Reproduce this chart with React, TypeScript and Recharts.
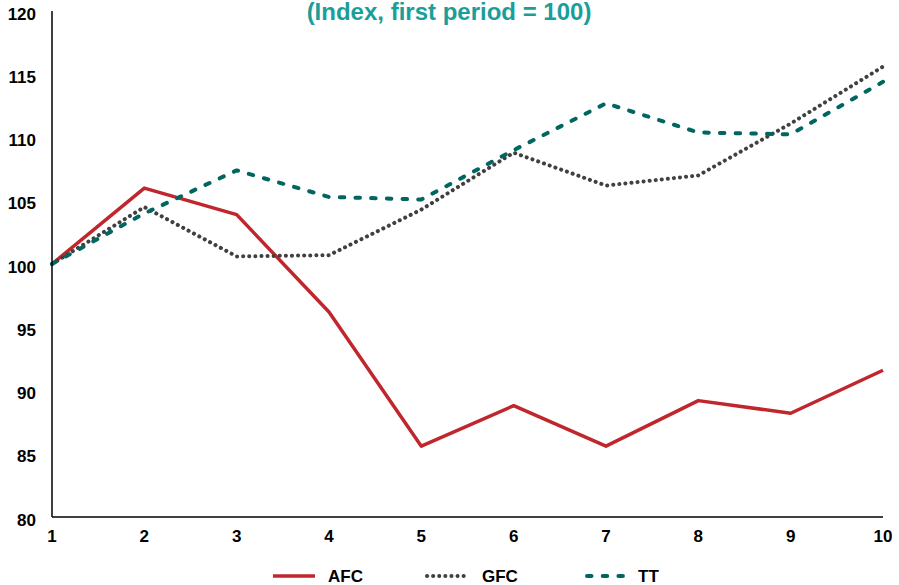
import React from "react";
import { LineChart, Line, XAxis, YAxis, Legend } from "recharts";

const periods = ["1", "2", "3", "4", "5", "6", "7", "8", "9", "10"];
const afc = [100, 106.0, 103.9, 96.2, 85.6, 88.8, 85.6, 89.2, 88.2, 91.6];
const gfc = [100, 104.5, 100.6, 100.7, 104.3, 108.8, 106.2, 107.0, 111.1, 115.6];
const tt = [100, 104.0, 107.4, 105.3, 105.1, 109.0, 112.7, 110.4, 110.25, 114.4];
const yTicks = [80, 85, 90, 95, 100, 105, 110, 115, 120];
const title = "(Index, first period = 100)";

const data = periods.map((p, i) => ({ period: p, AFC: afc[i], GFC: gfc[i], TT: tt[i] }));

const FONT = "'Liberation Sans', Arial, sans-serif";

const series = [
  { key: "AFC", color: "#c0272d", dash: undefined as string | undefined, cap: "butt" as const, width: 3.5 },
  { key: "GFC", color: "#404040", dash: "0.1 6", cap: "round" as const, width: 4 },
  { key: "TT", color: "#00665f", dash: "4.5 11.2", cap: "round" as const, width: 4 },
];

const YTick = (props: any) => {
  const { x, y, payload } = props;
  return (
    <text x={x - 16} y={y + 3} textAnchor="end" dominantBaseline="central" fontFamily={FONT} fontWeight="bold" fontSize={17} fill="#000">
      {payload.value}
    </text>
  );
};

const XTick = (props: any) => {
  const { x, y, payload } = props;
  return (
    <text x={x} y={y + 19} textAnchor="middle" dominantBaseline="central" fontFamily={FONT} fontWeight="bold" fontSize={17} fill="#000">
      {payload.value}
    </text>
  );
};

const legendPos = [
  { x1: 273, x2: 315, tx: 328 },
  { x1: 427, x2: 464, tx: 482 },
  { x1: 587, x2: 628, tx: 638 },
];

const LegendContent = () => (
  <svg width={899} height={20} style={{ display: "block" }}>
    {series.map((s, i) => (
      <g key={s.key}>
        <line
          x1={legendPos[i].x1}
          x2={legendPos[i].x2}
          y1={11}
          y2={11}
          stroke={s.color}
          strokeWidth={s.width}
          strokeDasharray={s.dash}
          strokeLinecap={s.cap}
        />
        <text x={legendPos[i].tx} y={11} dominantBaseline="central" fontFamily={FONT} fontWeight="bold" fontSize={17} fill="#000">
          {s.key}
        </text>
      </g>
    ))}
  </svg>
);

export default function App() {
  return (
    <div style={{ position: "absolute", left: 0, top: 0, width: 899, height: 585, background: "#fff" }}>
      <LineChart width={899} height={585} data={data} margin={{ top: 11, right: 16, bottom: 0, left: 0 }}>
        <XAxis
          dataKey="period"
          axisLine={{ stroke: "#000", strokeWidth: 1.5 }}
          tickLine={false}
          tickSize={0}
          tickMargin={0}
          height={48}
          interval={0}
          tick={<XTick />}
        />
        <YAxis
          domain={[80, 120]}
          ticks={yTicks}
          width={52}
          axisLine={{ stroke: "#000", strokeWidth: 1.5 }}
          tickLine={false}
          tickSize={0}
          tickMargin={0}
          interval={0}
          tick={<YTick />}
        />
        <Legend verticalAlign="bottom" height={20} content={<LegendContent />} wrapperStyle={{ left: 0, width: 899 }} />
        {series.map((s) => (
          <Line
            key={s.key}
            type="linear"
            dataKey={s.key}
            stroke={s.color}
            strokeWidth={s.width}
            strokeDasharray={s.dash}
            strokeLinecap={s.cap}
            strokeLinejoin="round"
            dot={false}
            activeDot={false}
            isAnimationActive={false}
          />
        ))}
      </LineChart>
      <svg width={899} height={30} style={{ position: "absolute", left: 0, top: 0, pointerEvents: "none" }}>
        <text x={449} y={20} textAnchor="middle" fontFamily={FONT} fontWeight="bold" fontSize={24} fill="#1a9e99">
          {title}
        </text>
      </svg>
    </div>
  );
}
